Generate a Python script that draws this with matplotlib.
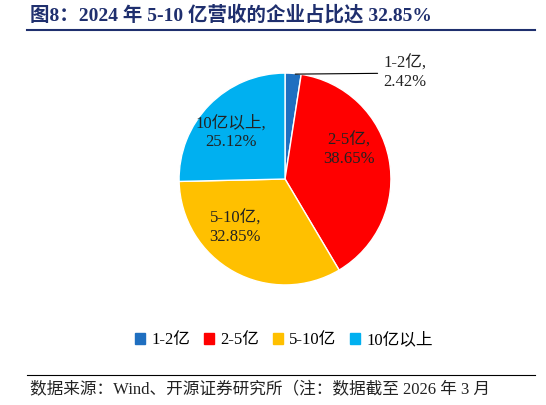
import matplotlib
matplotlib.use("Agg")
import matplotlib.pyplot as plt
from matplotlib.patches import Patch
from matplotlib.lines import Line2D

plt.rcParams['font.family'] = ['Liberation Serif', 'Noto Sans CJK SC']

categories = ['1-2亿', '2-5亿', '5-10亿', '10亿以上']
values = [2.42, 38.65, 32.85, 25.12]
colors = ['#1F6FC0', '#FF0000', '#FFC000', '#00B0F0']

fig = plt.figure(figsize=(5.46, 4.05), dpi=100)
ax = fig.add_axes([0.522 - 0.194, 0.558 - 0.2617, 0.388, 0.5234])
wedges, _ = ax.pie(values, colors=colors, startangle=90, counterclock=False,
                   wedgeprops=dict(edgecolor='white', linewidth=1))
ax.set_aspect('equal')
ax.set_xlim(-1, 1)
ax.set_ylim(-1, 1)
ax.axis('off')

lab = [f'{c},\n{v:.2f}%' for c, v in zip(categories, values)]
ax.annotate(lab[0], xy=(0.07, 0.99), xytext=(1.13, 1.0), fontsize=12,
            ha='center', va='center', color='#222222', annotation_clip=False,
            arrowprops=dict(arrowstyle='-', color='black', lw=0.8))
pos = [(0.6, 0.28), (-0.47, -0.46), (-0.51, 0.44)]
for (x, y), t in zip(pos, lab[1:]):
    ax.text(x, y, t, fontsize=12, ha='center', va='center', color='#222222')

fig.text(0.055, 0.963, '图8：2024 年 5-10 亿营收的企业占比达 32.85%', fontsize=14,
         fontweight='bold', color='#1F2F6E', va='center')
fig.add_artist(Line2D([0.05, 0.98], [0.925, 0.925], color='#1F2F6E', lw=1.5))
fig.add_artist(Line2D([0.05, 0.98], [0.075, 0.075], color='black', lw=0.8))
fig.text(0.055, 0.04, '数据来源：Wind、开源证券研究所（注：数据截至 2026 年 3 月', fontsize=12,
         color='#222222', va='center')

handles = [Patch(color=c) for c in colors]
fig.legend(handles, categories, loc='center', bbox_to_anchor=(0.52, 0.16), ncol=4,
           frameon=False, fontsize=12, handlelength=0.6, handleheight=0.6,
           columnspacing=0.8, handletextpad=0.4)
fig.savefig('out.png', dpi=100)
